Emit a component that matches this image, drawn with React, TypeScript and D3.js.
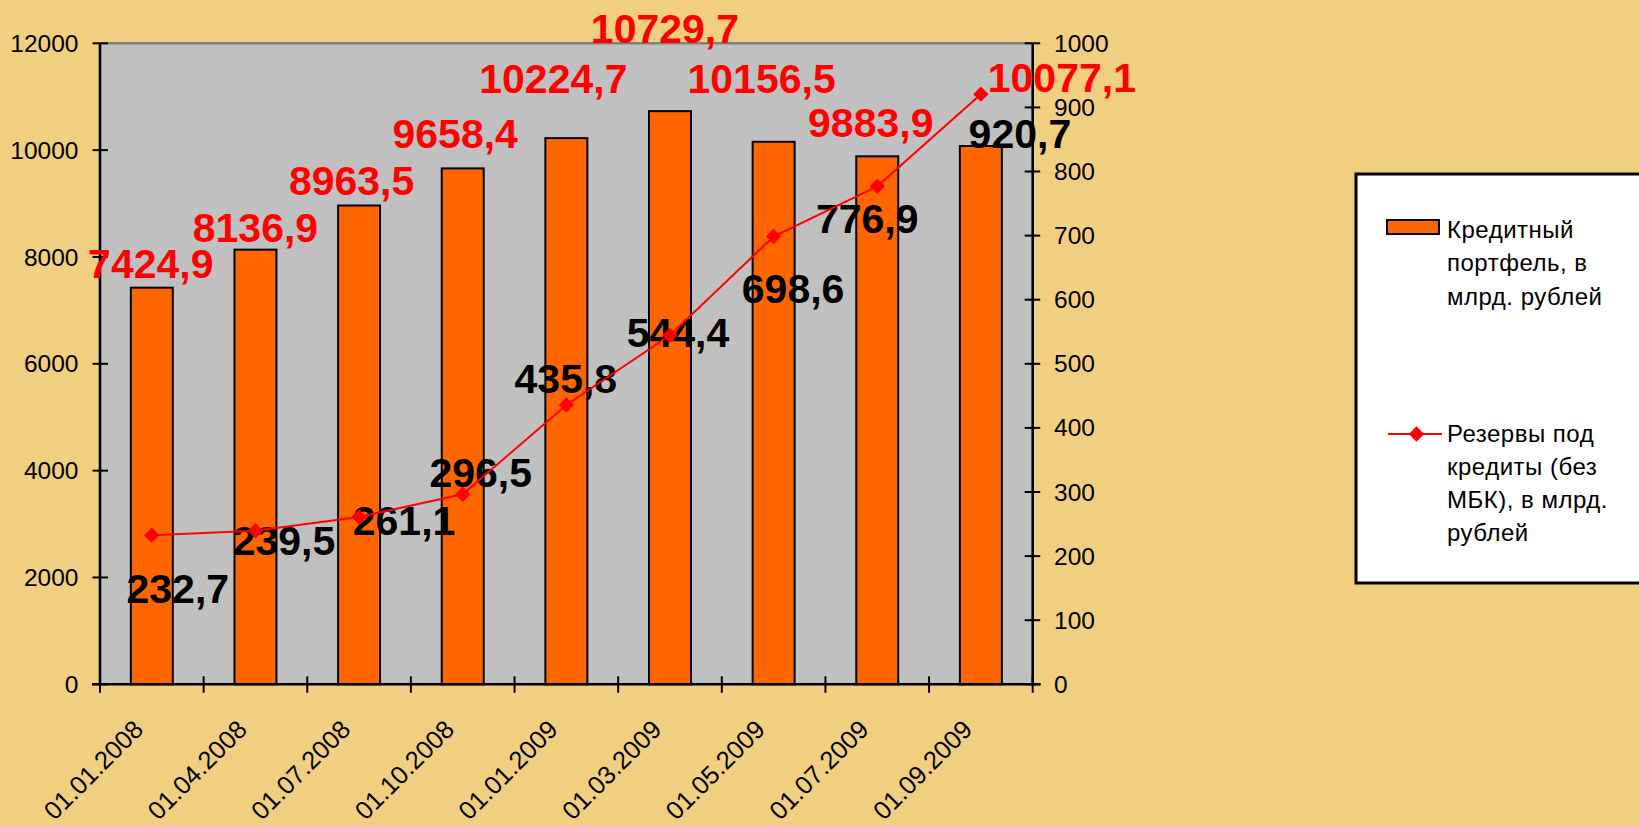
import React from 'react';
import * as d3 from 'd3';

const categories = ['01.01.2008', '01.04.2008', '01.07.2008', '01.10.2008', '01.01.2009', '01.03.2009', '01.05.2009', '01.07.2009', '01.09.2009'];
const portfolio = [7424.9, 8136.9, 8963.5, 9658.4, 10224.7, 10729.7, 10156.5, 9883.9, 10077.1];
const reserves = [232.7, 239.5, 261.1, 296.5, 435.8, 544.4, 698.6, 776.9, 920.7];
const leftTicks = [0, 2000, 4000, 6000, 8000, 10000, 12000];
const rightTicks = [0, 100, 200, 300, 400, 500, 600, 700, 800, 900, 1000];
const legendBarText = ['Кредитный', 'портфель, в', 'млрд. рублей'];
const legendLineText = ['Резервы под', 'кредиты (без', 'МБК), в млрд.', 'рублей'];

// manual data-label placement (dx from category centre, dy from mark)
const barLabelShift: [number, number][] = [[-1, -10], [0, -8], [-7.5, -10.5], [-7.5, -20], [-13, -45], [-5, -68], [-12, -48.5], [-6.5, -19.7], [81, -54]];
const lineLabelShift: [number, number][] = [[26, 68], [28.5, 24], [45, 18], [18, -7.5], [-0.5, -11.7], [8, 11.4], [19.5, 67], [-10, 47], [39, 54]];

const W = 1639;
const H = 826;
const L = 100;
const R = 1032.7;
const T = 43.3;
const B = 684.3;
const FONT = '"Liberation Sans", Arial, Helvetica, sans-serif';
const BG = '#F0CF80';
const ORANGE = '#FF6600';
const RED = '#FF0000';

const fmt = (v: number) => d3.format('.1f')(v).replace('.', ',');

export default function App() {
  if (typeof document !== 'undefined') document.body.style.margin = '0';
  const x = d3.scaleBand<string>().domain(categories).range([L, R]).padding(0);
  const yL = d3.scaleLinear().domain([0, 12000]).range([B, T]);
  const yR = d3.scaleLinear().domain([0, 1000]).range([B, T]);
  const bw = x.bandwidth() * 0.405;
  const cx = (c: string) => (x(c) as number) + x.bandwidth() / 2;
  const lineGen = d3.line<number>().x((_, i) => cx(categories[i])).y((d) => yR(d));
  const diamond = d3.symbol().type(d3.symbolDiamond2).size(150)();
  const boundaries = d3.range(categories.length + 1).map((i) => L + i * x.step());

  return (
    <svg width={W} height={H} style={{ position: 'absolute', left: 0, top: 0, display: 'block' }} fontFamily={FONT}>
      <rect x={0} y={0} width={W} height={H} fill={BG} />
      <rect x={L} y={T} width={R - L} height={B - T} fill="#C0C0C0" />
      <line x1={L} x2={R} y1={T} y2={T} stroke="#808080" strokeWidth={2.5} />

      {portfolio.map((v, i) => (
        <rect key={'b' + i} x={cx(categories[i]) - bw / 2} y={yL(v)} width={bw} height={B - yL(v)} fill={ORANGE} stroke="#000" strokeWidth={2} />
      ))}

      {/* axes */}
      <line x1={L} x2={L} y1={T} y2={B} stroke="#000" strokeWidth={2.6} />
      <line x1={R} x2={R} y1={T} y2={B} stroke="#000" strokeWidth={2.6} />
      <line x1={L - 8} x2={R + 8} y1={B} y2={B} stroke="#000" strokeWidth={2.6} />
      {leftTicks.map((t) => (
        <g key={'lt' + t}>
          <line x1={L - 7.5} x2={L + 8} y1={yL(t)} y2={yL(t)} stroke="#000" strokeWidth={2} />
          <text x={78.5} y={yL(t)} dy="0.35em" textAnchor="end" fontSize={24.5} fill="#000">{t}</text>
        </g>
      ))}
      {rightTicks.map((t) => (
        <g key={'rt' + t}>
          <line x1={R - 8} x2={R + 7.5} y1={yR(t)} y2={yR(t)} stroke="#000" strokeWidth={2} />
          <text x={1054} y={yR(t)} dy="0.35em" textAnchor="start" fontSize={24.5} fill="#000">{t}</text>
        </g>
      ))}
      {boundaries.map((bx, i) => (
        <line key={'xt' + i} x1={bx} x2={bx} y1={B - 8} y2={B + 8.5} stroke="#000" strokeWidth={2} />
      ))}
      {categories.map((c) => (
        <text key={'xl' + c} transform={`translate(${cx(c) - 7},${731}) rotate(-45)`} textAnchor="end" fontSize={25.5} fill="#000">{c}</text>
      ))}

      {/* line labels */}
      {reserves.map((v, i) => (
        <text key={'ll' + i} x={cx(categories[i]) + lineLabelShift[i][0]} y={yR(v) + lineLabelShift[i][1]} textAnchor="middle" fontSize={41} fontWeight="bold" fill="#000">{fmt(v)}</text>
      ))}

      <path d={lineGen(reserves) || ''} fill="none" stroke={RED} strokeWidth={2} />
      {reserves.map((v, i) => (
        <path key={'m' + i} d={diamond || ''} transform={`translate(${cx(categories[i])},${yR(v)})`} fill={RED} />
      ))}

      {/* bar labels */}
      {portfolio.map((v, i) => (
        <text key={'bl' + i} x={cx(categories[i]) + barLabelShift[i][0]} y={yL(v) + barLabelShift[i][1]} textAnchor="middle" fontSize={41} fontWeight="bold" fill={RED}>{fmt(v)}</text>
      ))}

      {/* legend */}
      <rect x={1356} y={174} width={320} height={409} fill="#FFFFFF" stroke="#000" strokeWidth={3} />
      <rect x={1387} y={220} width={52} height={14} fill={ORANGE} stroke="#000" strokeWidth={2} />
      {legendBarText.map((s, i) => (
        <text key={'lb' + i} x={1447} y={237.5 + i * 33.5} fontSize={24} letterSpacing={0.5} fill="#000">{s}</text>
      ))}
      <line x1={1388} x2={1442} y1={434} y2={434} stroke={RED} strokeWidth={2} />
      <path d={diamond || ''} transform="translate(1416.5,434)" fill={RED} />
      {legendLineText.map((s, i) => (
        <text key={'ll2' + i} x={1447} y={441.7 + i * 33} fontSize={24} letterSpacing={0.5} fill="#000">{s}</text>
      ))}
    </svg>
  );
}
